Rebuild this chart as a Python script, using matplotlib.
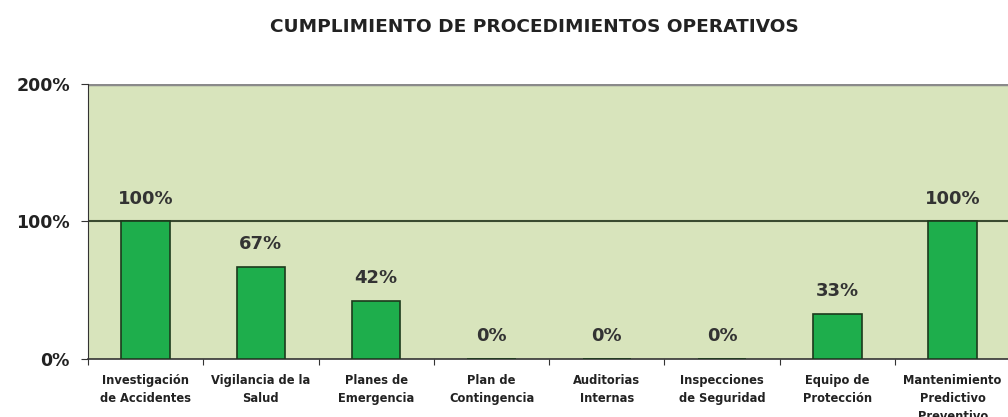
import matplotlib.pyplot as plt
import numpy as np

categories = ["Investigación\nde Accidentes", "Vigilancia de la\nSalud", "Planes de\nEmergencia",
              "Plan de\nContingencia", "Auditorias\nInternas", "Inspecciones\nde Seguridad",
              "Equipo de\nProtección", "Mantenimiento\nPredictivo\nPreventivo"]
values = [100, 67, 42, 0, 0, 0, 33, 100]
yticks = [0, 100, 200]
ytick_labels = ["0%", "100%", "200%"]

fig = plt.figure(figsize=(10.08, 4.17), dpi=100)
ax = fig.add_axes([0.0873, 0.139, 0.915, 0.66])
ax.set_facecolor('#d8e4bc')

x = np.arange(len(categories))
ax.bar(x, values, width=0.42, color='#1eae4c', edgecolor='#1c3a1c', linewidth=1.2, zorder=3)

for xi, v in zip(x, values):
    ax.annotate(f"{v}%", (xi, v), xytext=(0, 10), textcoords='offset points',
                ha='center', va='bottom', fontsize=13, fontweight='bold', color='#333333')

ax.set_xlim(-0.5, len(categories) - 0.5)
ax.set_ylim(0, 200)
ax.set_yticks(yticks)
ax.set_yticklabels(ytick_labels, fontsize=12.5, fontweight='bold', color='#222222')
ax.axhline(100, color='#3a4a30', linewidth=1.5, zorder=2)
ax.axhline(200, color='#8a8a8a', linewidth=2.5, zorder=2)

ax.set_xticks(np.arange(len(categories) + 1) - 0.5, minor=False)
ax.set_xticklabels([])
ax.set_xticks(x, minor=True)
ax.set_xticklabels(categories, minor=True, fontsize=8.3, fontweight='bold', color='#222222',
                   linespacing=1.5)
ax.tick_params(axis='x', which='minor', length=0, pad=11)
ax.tick_params(axis='x', which='major', length=4, color='#333333', direction='out')
ax.tick_params(axis='y', length=5, color='#333333', pad=8)

for side in ['top', 'right']:
    ax.spines[side].set_visible(False)
ax.spines['left'].set_color('#333333')
ax.spines['bottom'].set_color('#333333')
ax.spines['bottom'].set_linewidth(1.2)

fig.text(0.53, 0.935, "CUMPLIMIENTO DE PROCEDIMIENTOS OPERATIVOS", ha='center', va='center',
         fontsize=13.3, fontweight='bold', color='#222222')

fig.savefig("out.png", dpi=100)
